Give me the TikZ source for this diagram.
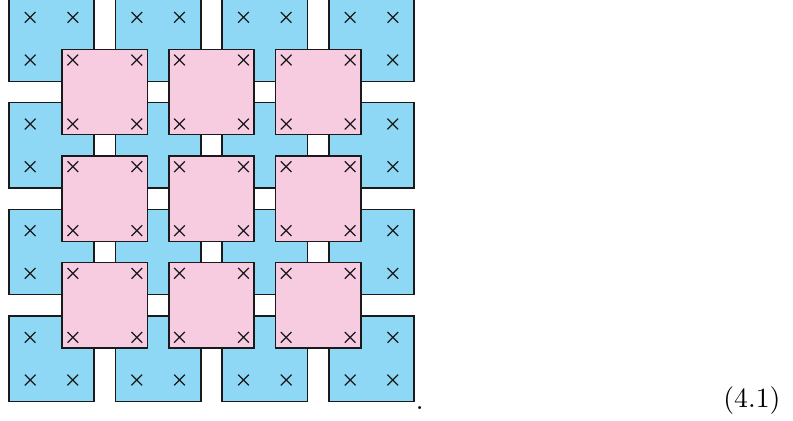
\documentclass[tikz,border=0pt]{standalone}
\usepackage{xcolor,tikz}
\definecolor{bluefill}{HTML}{8ED8F6}
\definecolor{pinkfill}{HTML}{F7CBE0}
\definecolor{ink}{HTML}{1A1A1A}
\newcommand{\crossat}[2]{\draw[ink,line width=0.45pt] (#1-0.25,#2-0.25) -- (#1+0.25,#2+0.25) (#1-0.25,#2+0.25) -- (#1+0.25,#2-0.25);}
\newcommand{\bluesq}[2]{%
  \filldraw[fill=bluefill,draw=ink,line width=0.5pt] (#1-2,#2-2) rectangle (#1+2,#2+2);
  \crossat{#1-1}{#2-1}\crossat{#1+1}{#2-1}\crossat{#1-1}{#2+1}\crossat{#1+1}{#2+1}}
\newcommand{\pinksq}[2]{%
  \filldraw[fill=pinkfill,draw=ink,line width=0.5pt] (#1-2,#2-2) rectangle (#1+2,#2+2);
  \crossat{#1-1.5}{#2-1.5}\crossat{#1+1.5}{#2-1.5}\crossat{#1-1.5}{#2+1.5}\crossat{#1+1.5}{#2+1.5}}

\begin{document}
\begin{tikzpicture}[x=2.7mm,y=2.7mm]
\useasboundingbox (-2.414,-17.92) rectangle (34.76,1.814);
% outer grid
\bluesq{0}{0}   \bluesq{5}{0}   \bluesq{10}{0}   \bluesq{15}{0}
\bluesq{0}{-5}  \bluesq{5}{-5}  \bluesq{10}{-5}  \bluesq{15}{-5}
\bluesq{0}{-10} \bluesq{5}{-10} \bluesq{10}{-10} \bluesq{15}{-10}
\bluesq{0}{-15} \bluesq{5}{-15} \bluesq{10}{-15} \bluesq{15}{-15}
% inner grid
\pinksq{2.5}{-2.5}  \pinksq{7.5}{-2.5}  \pinksq{12.5}{-2.5}
\pinksq{2.5}{-7.5}  \pinksq{7.5}{-7.5}  \pinksq{12.5}{-7.5}
\pinksq{2.5}{-12.5} \pinksq{7.5}{-12.5} \pinksq{12.5}{-12.5}
\node[anchor=base west,inner sep=0] (dot) at (17.05,-17.36) {.};
\node[anchor=base west,inner sep=0] (eqnum) at (31.47,-17.27) {(4.1)};
\end{tikzpicture}
\end{document}
